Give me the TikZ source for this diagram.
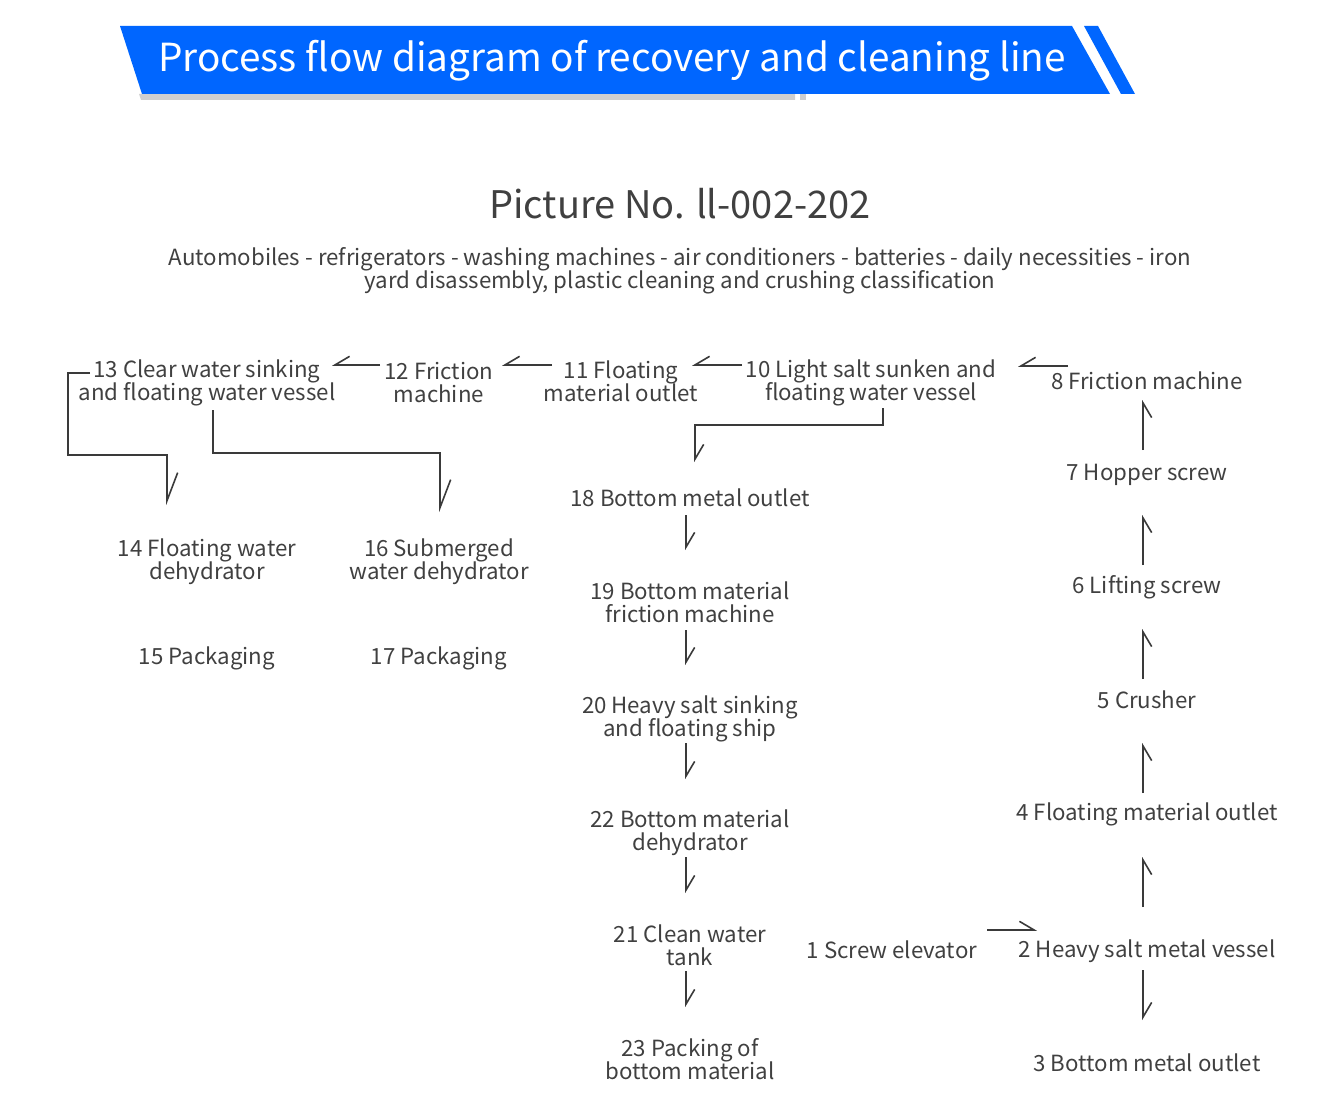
\documentclass[tikz,border=0pt]{standalone}
\usepackage{fontspec}
\usepackage{xcolor}
\newfontfamily\flowfont{Noto Sans CJK SC}
\newcommand\flowtext{\flowfont\fontsize{16.7pt}{17.25pt}\selectfont\lineskiplimit=-20pt\relax}
\usetikzlibrary{calc,arrows.meta}
\definecolor{bannerblue}{RGB}{0,102,255}
\definecolor{shadowgray}{RGB}{207,207,207}
\definecolor{inkgray}{RGB}{64,64,64}
\definecolor{linegray}{RGB}{58,58,58}

\begin{document}
\begin{tikzpicture}[x=0.75pt,y=-0.75pt,
stage/.style={
% The text:
inner sep=0pt, align=center,
% The rest
text=inkgray,
font=\flowtext},
flow/.style={line width=1.2pt,draw=linegray},
fwd/.style={flow,-{Straight Barb[harpoon,length=11pt,width=13pt]}},
bwd/.style={flow,-{Straight Barb[harpoon,swap,length=11pt,width=13pt]}},
longfwd/.style={flow,-{Straight Barb[harpoon,length=21pt,width=16pt]}}]

\useasboundingbox (0,0) rectangle (1335,1116);

% banner
\fill[shadowgray] (139,94) -- (795,94) -- (795,100) -- (141,100) -- cycle;
\fill[shadowgray] (800,94) rectangle (806,100);
\fill[bannerblue] (120,26) -- (1072,26) -- (1110,94) -- (142,94) -- cycle;
\fill[bannerblue] (1084,26) -- (1098,26) -- (1135,94) -- (1121,94) -- cycle;
\node (Banner) at (612,61) [text=white,inner sep=0pt,
  font=\flowfont\fontsize{29pt}{31pt}\selectfont]
  {Process flow diagram of recovery and cleaning line};

\node (PicNo) at (680,204) [stage,font=\flowfont\fontsize{28.5pt}{30pt}\selectfont]
  {Picture No. ll-002-202};
\node (Intro) at (680,271) [stage]
  {Automobiles - refrigerators - washing machines - air conditioners - batteries - daily necessities - iron\\
   yard disassembly, plastic cleaning and crushing classification};

% right column
\node (Elevator) at (892,949.5) [stage] {1 Screw elevator};
\node (HeavyVessel) at (1147,951.5) [stage] {2 Heavy salt metal vessel};
\node (MetalOut) at (1147,1062.5) [stage] {3 Bottom metal outlet};
\node (FloatOut) at (1147,814.5) [stage] {4 Floating material outlet};
\node (Crusher) at (1147,699.5) [stage] {5 Crusher};
\node (LiftScrew) at (1147,587.5) [stage] {6 Lifting screw};
\node (HopperScrew) at (1147,475) [stage] {7 Hopper screw};
\node (Friction) at (1147,381) [stage] {8 Friction machine};

% top row
\node (LightVessel) at (871,383) [stage] {10 Light salt sunken and\\floating water vessel};
\node (FloatMat) at (621,381) [stage] {11 Floating\\material outlet};
\node (FrictionB) at (439,383) [stage] {12 Friction\\machine};
\node (ClearVessel) at (207,383) [stage] {13 Clear water sinking\\and floating water vessel};

% left block
\node (FloatDehyd) at (207,562) [stage] {14 Floating water\\dehydrator};
\node (PackA) at (207,658) [stage] {15 Packaging};
\node (SubDehyd) at (439,562) [stage] {16 Submerged\\water dehydrator};
\node (PackB) at (439,658) [stage] {17 Packaging};

% middle column
\node (BottomMetal) at (690,497.5) [stage] {18 Bottom metal outlet};
\node (BottomFriction) at (690,602) [stage] {19 Bottom material\\friction machine};
\node (HeavyShip) at (690,719) [stage] {20 Heavy salt sinking\\and floating ship};
\node (BottomDehyd) at (690,833) [stage] {22 Bottom material\\dehydrator};
\node (CleanTank) at (690,945) [stage] {21 Clean water\\tank};
\node (BottomPack) at (690,1059) [stage] {23 Packing of\\bottom material};

\path
($(Elevator)+(95,-19.5)$) edge[fwd] ($(HeavyVessel)+(-110,-21.5)$)
($(HeavyVessel)+(-4,18.5)$) edge[fwd] ($(MetalOut)+(-4,-42.5)$)
($(HeavyVessel)+(-4,-44.5)$) edge[bwd] ($(FloatOut)+(-4,42.5)$)
($(FloatOut)+(-4,-21.5)$) edge[bwd] ($(Crusher)+(-4,43.5)$)
($(Crusher)+(-4,-20.5)$) edge[bwd] ($(LiftScrew)+(-4,41.5)$)
($(LiftScrew)+(-4,-22.5)$) edge[bwd] ($(HopperScrew)+(-4,40)$)
($(HopperScrew)+(-4,-25)$) edge[bwd] ($(Friction)+(-4,19)$)
($(Friction)+(-79,-15)$) edge[bwd] ($(LightVessel)+(147,-17)$)
($(LightVessel)+(-129,-18)$) edge[bwd] ($(FloatMat)+(71,-16)$)
($(FloatMat)+(-69,-16)$) edge[bwd] ($(FrictionB)+(63,-18)$)
($(FrictionB)+(-59,-18)$) edge[bwd] ($(ClearVessel)+(125,-18)$);

\path
($(BottomMetal)+(-4,17.5)$) edge[fwd] ($(BottomFriction)+(-4,-52)$)
($(BottomFriction)+(-4,28)$) edge[fwd] ($(HeavyShip)+(-4,-54)$)
($(HeavyShip)+(-4,24)$) edge[fwd] ($(BottomDehyd)+(-4,-54)$)
($(BottomDehyd)+(-4,24)$) edge[fwd] ($(CleanTank)+(-4,-52)$)
($(CleanTank)+(-4,26)$) edge[fwd] ($(BottomPack)+(-4,-52)$);

\draw[fwd] ($(LightVessel)+(12,25)$) |- ($(BottomMetal)+(5,-72.5)$) -- ($(BottomMetal)+(5,-35.5)$);
\draw[longfwd] ($(ClearVessel)+(-117,-10)$) -- ++(-22,0) -- ++(0,82) -| ($(FloatDehyd)+(-40,-57)$);
\draw[longfwd] ($(ClearVessel)+(6,27)$) |- ($(SubDehyd)+(1,-109)$) -- ($(SubDehyd)+(1,-50)$);

\end{tikzpicture}
\end{document}
